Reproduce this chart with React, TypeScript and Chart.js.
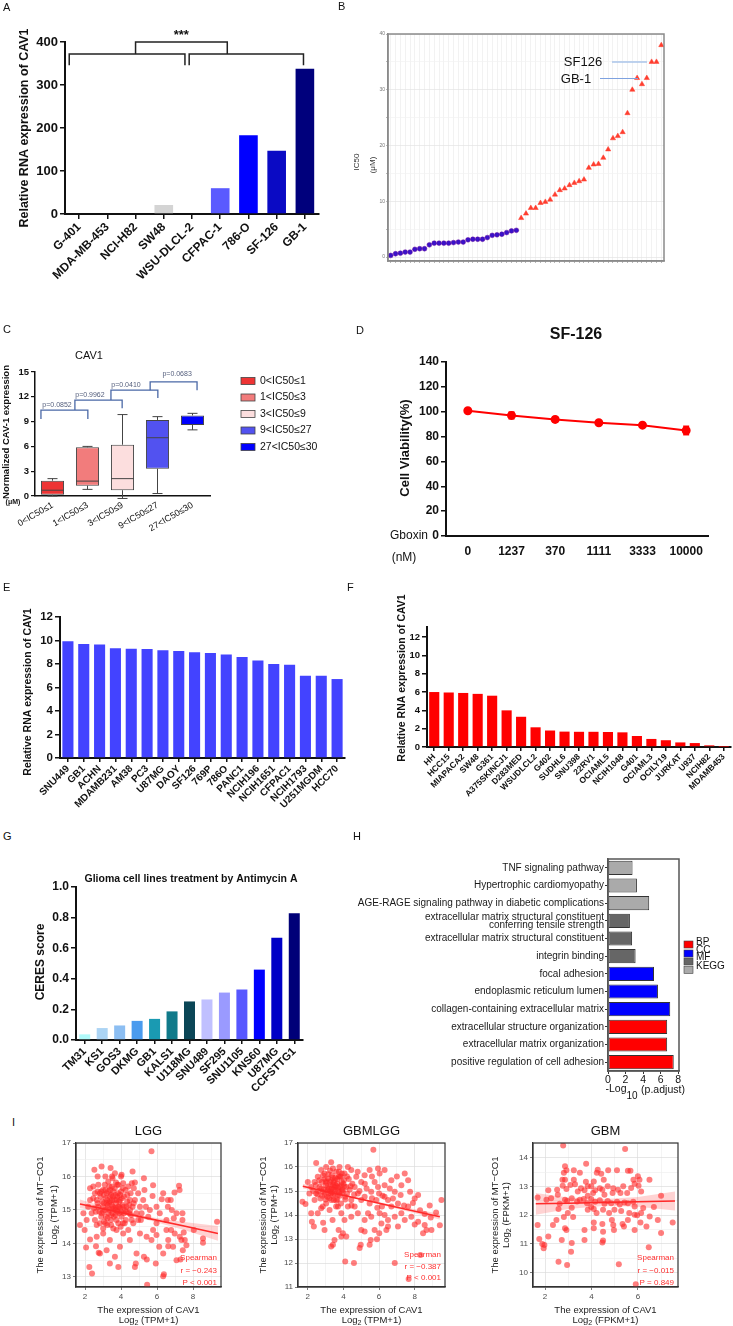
import React, { useEffect, useRef } from "react";
import { Chart, registerables } from "chart.js";

Chart.register(...registerables);

const FF = "'Liberation Sans', Arial, Helvetica, sans-serif";
Chart.defaults.font.family = FF;
Chart.defaults.color = "#111";

// ================= DATA =================
// Panel A
const aCategories = ["G-401", "MDA-MB-453", "NCI-H82", "SW48", "WSU-DLCL-2", "CFPAC-1", "786-O", "SF-126", "GB-1"];
const aValues = [0, 0, 0, 21, 0, 60, 183, 147, 338];
const aColors = ["#cccccc", "#cccccc", "#cccccc", "#d4d4d4", "#cccccc", "#5a5aff", "#0000ff", "#0a0ac4", "#00007c"];
const aBrackets = [
  { x0: -0.35, x1: 3.75, y: 372, d0: 346, d1: 346 },
  { x0: 3.9, x1: 7.95, y: 372, d0: 346, d1: 346 },
  { x0: 2.0, x1: 5.25, y: 400, d0: 372, d1: 372 },
];

// Panel B (IC50, sorted)
const bLowIC50 = [0.3, 0.6, 0.7, 0.9, 0.9, 1.4, 1.5, 1.5, 2.2, 2.5, 2.5, 2.5, 2.5, 2.6, 2.7, 2.7, 3.1, 3.2, 3.2, 3.2, 3.5, 3.9, 4.0, 4.1, 4.4, 4.7, 4.8];
const bHighIC50 = [7.0, 7.8, 8.8, 8.8, 9.7, 9.9, 10.3, 11.2, 12.0, 12.3, 12.9, 13.3, 13.6, 13.9, 16.0, 16.6, 16.7, 17.8, 19.3, 21.3, 21.7, 22.4, 25.8, 30.0, 32.1, 31.0, 32.1, 35.0, 35.0, 38.0];

// Panel C
const cCategories = ["0<IC50≤1", "1<IC50≤3", "3<IC50≤9", "9<IC50≤27", "27<IC50≤30"];
const cMin = [0, 0.8, -0.3, 0.3, 8.0];
const cQ1 = [0.15, 1.25, 0.7, 3.3, 8.6];
const cMedian = [0.7, 1.8, 2.1, 7.05, 8.65];
const cQ3 = [1.85, 5.9, 6.2, 9.2, 9.75];
const cMax = [2.1, 6.0, 9.85, 9.6, 10.0];
const cColors = ["#ee3434", "#f27c7c", "#fcdede", "#5252f0", "#0000ff"];
const cPValues = ["p=0.0852", "p=0.9962", "p=0.0410", "p=0.0683"];
const cBrackets = [
  { x0: -0.33, x1: 1.01, y: 10.4, d0: 9.3, d1: 9.3, lx: 0.13, ly: 11.0 },
  { x0: 0.64, x1: 1.99, y: 11.6, d0: 10.4, d1: 10.6, lx: 1.07, ly: 12.2 },
  { x0: 1.67, x1: 3.01, y: 12.8, d0: 11.6, d1: 11.85, lx: 2.1, ly: 13.4 },
  { x0: 2.79, x1: 4.13, y: 13.8, d0: 12.8, d1: 12.8, lx: 3.56, ly: 14.75 },
];

// Panel D
const dDoses = ["0", "1237", "370", "1111", "3333", "10000"];
const dViability = [100.8, 97.0, 93.8, 91.1, 89.2, 84.9];
const dError = [0.8, 2.5, 1.9, 1.0, 1.0, 3.2];

// Panel E
const eCategories = ["SNU449", "GB1", "ACHN", "MDAMB231", "AM38", "PC3", "U87MG", "DAOY", "SF126", "769P", "786O", "PANC1", "NCIH196", "NCIH1651", "CFPAC1", "NCIH1793", "U251MGDM", "HCC70"];
const eValues = [9.94, 9.7, 9.66, 9.35, 9.3, 9.27, 9.18, 9.1, 9.0, 8.93, 8.8, 8.6, 8.3, 8.0, 7.94, 7.0, 7.0, 6.72];

// Panel F
const fCategories = ["HH", "HCC15", "MIAPACA2", "SW48", "G361", "A375SKINCJ1", "D283MED", "WSUDLCL2", "G402", "SUDHL6", "SNU398", "22RV1", "OCIAML5", "NCIH1048", "G401", "OCIAML3", "OCILY19", "JURKAT", "U937", "NCIH82", "MDAMB453"];
const fValues = [6.0, 5.95, 5.9, 5.8, 5.6, 4.0, 3.3, 2.15, 1.8, 1.68, 1.66, 1.66, 1.64, 1.6, 1.2, 0.88, 0.74, 0.5, 0.43, 0.18, 0.02];

// Panel G
const gCategories = ["TM31", "KS1", "GOS3", "DKMG", "GB1", "KALS1", "U118MG", "SNU489", "SF295", "SNU1105", "KNS60", "U87MG", "CCFSTTG1"];
const gValues = [0.037, 0.078, 0.095, 0.125, 0.138, 0.187, 0.252, 0.265, 0.31, 0.33, 0.46, 0.668, 0.829];
const gColors = ["#b0fafa", "#acd4f4", "#8cbef2", "#4a9bee", "#1a9ab2", "#107a8a", "#0b4656", "#c0c0ff", "#9a9aff", "#5757ff", "#0000ff", "#0000c6", "#000078"];

// Panel H
const hTerms = [
  "TNF signaling pathway",
  "Hypertrophic cardiomyopathy",
  "AGE-RAGE signaling pathway in diabetic complications",
  ["extracellular matrix structural constituent", "conferring tensile strength"],
  "extracellular matrix structural constituent",
  "integrin binding",
  "focal adhesion",
  "endoplasmic reticulum lumen",
  "collagen-containing extracellular matrix",
  "extracellular structure organization",
  "extracellular matrix organization",
  "positive regulation of cell adhesion",
];
const hValues = [2.8, 3.3, 4.7, 2.5, 2.75, 3.15, 5.25, 5.7, 7.1, 6.75, 6.75, 7.5];
const hGroups = ["KEGG", "KEGG", "KEGG", "MF", "MF", "MF", "CC", "CC", "CC", "BP", "BP", "BP"];
const hLegend = ["BP", "CC", "MF", "KEGG"];
const hGroupColors: any = { BP: "#ff0000", CC: "#0000ff", MF: "#666666", KEGG: "#aaaaaa" };

// Panel I
const lggPts = [
  [5.45, 12.77], [5.69, 16.75], [1.72, 14.55], [1.98, 14.4], [2.24, 13.3], [2.39, 13.1], [2.52, 16.2], [2.28, 15.65], [2.7, 16.0], [2.92, 16.3], [3.42, 16.25], [3.72, 15.82], [4.03, 16.05], [4.64, 16.15], [4.77, 15.82], [5.27, 15.95], [5.78, 15.74], [5.75, 15.42], [6.34, 15.5], [6.26, 15.32], [6.97, 15.52], [7.22, 15.72], [7.25, 15.6], [6.6, 15.3], [6.76, 15.3],
  [8.04, 14.4], [8.55, 14.15], [8.55, 14.02], [9.33, 14.65], [7.41, 14.9], [7.41, 14.7], [7.08, 14.9], [6.93, 14.75], [6.78, 14.4], [6.98, 14.3], [7.26, 14.2], [7.35, 14.1], [7.43, 13.8], [6.52, 14.7], [6.15, 14.9], [5.97, 14.6], [5.78, 14.4], [5.69, 14.1], [6.12, 13.9], [6.34, 13.7], [5.93, 13.4], [5.43, 13.52], [4.86, 13.7], [4.82, 13.4], [4.77, 13.3], [5.27, 13.6], [6.38, 13.08], [6.34, 13.02], [3.85, 13.3], [3.38, 13.4], [3.66, 13.6], [3.94, 13.9], [2.61, 13.92], [2.83, 13.7], [2.76, 13.72], [3.2, 13.8], [2.06, 13.88], [2.28, 14.12], [2.65, 14.2], [3.01, 14.3], [3.38, 14.1], [3.75, 14.4], [4.12, 14.3], [4.49, 14.1], [5.05, 14.3], [5.42, 14.2], [5.51, 14.8], [5.14, 14.9], [4.95, 14.7], [7.63, 13.95], [7.48, 14.33], [7.3, 13.52], [7.08, 13.5], [7.54, 14.1], [6.89, 13.9], [6.62, 14.1], [6.62, 13.92], [5.97, 14.25], [6.52, 14.4], [6.82, 15.0], [6.6, 15.1], [5.97, 15.1], [5.23, 15.3], [5.38, 15.1],
  [2.18, 15.1], [2.46, 15.35], [2.65, 15.3], [2.74, 15.1], [2.83, 15.5], [2.92, 14.9], [3.05, 15.2], [3.13, 15.6], [3.16, 14.8], [3.24, 15.3], [3.29, 15.05], [3.38, 15.4], [3.44, 14.7], [3.48, 15.15], [3.53, 14.9], [3.57, 15.55], [3.62, 15.3], [3.66, 15.0], [3.72, 15.2], [3.75, 14.7], [3.79, 15.4], [3.85, 15.1], [3.9, 14.9], [3.94, 15.3], [4.0, 15.55], [4.03, 14.8], [4.09, 15.15], [4.16, 15.4], [4.22, 15.0], [4.27, 14.7], [4.34, 15.25], [4.46, 14.9], [4.53, 15.5], [4.64, 15.1], [4.77, 15.3], [4.86, 14.9], [4.68, 14.6], [4.4, 14.4], [2.83, 14.6], [2.55, 14.7], [2.37, 14.9], [3.01, 14.45], [3.24, 14.55], [3.57, 14.45], [3.98, 14.5], [2.46, 15.7], [2.74, 15.75], [3.29, 15.85], [3.53, 15.95], [3.85, 15.75], [4.12, 15.8], [4.4, 15.7], [4.71, 15.65], [4.95, 15.5], [5.05, 15.1], [3.13, 16.0], [3.66, 16.1], [3.05, 15.45], [3.34, 15.22], [3.6, 15.05], [3.9, 15.25], [4.16, 14.9], [4.49, 15.3], [2.28, 15.3], [2.09, 14.7], [1.91, 14.9],
  [3.1, 15.0], [3.2, 15.5], [3.4, 15.6], [3.5, 15.3], [3.7, 15.45], [3.8, 14.95], [3.3, 14.9], [3.45, 15.45], [3.65, 15.65], [2.95, 15.25], [3.0, 15.6], [3.35, 15.7], [4.25, 15.6], [4.5, 15.0], [4.6, 14.7], [2.6, 14.95], [2.9, 14.8], [3.95, 15.05], [4.05, 15.35], [3.15, 15.35],
  [3.25, 15.15], [3.55, 15.1], [3.85, 15.5], [3.45, 14.85], [2.85, 15.4], [4.3, 15.1], [3.7, 14.85], [3.0, 14.95], [2.7, 15.55], [4.1, 14.6],
  [2.7, 15.2], [2.8, 14.95], [2.9, 15.55], [3.0, 15.1], [3.05, 14.65], [3.1, 15.75], [3.2, 15.2], [3.25, 14.75], [3.3, 15.55], [3.35, 15.0], [3.4, 15.25], [3.45, 14.55], [3.5, 15.7], [3.55, 15.4], [3.6, 14.8], [3.7, 15.05], [3.75, 15.3], [3.8, 15.75], [3.85, 14.6], [3.9, 15.1], [3.95, 15.45], [4.0, 14.95], [4.1, 15.65], [4.15, 15.1], [4.2, 14.6], [4.3, 14.95], [4.35, 15.45], [4.45, 15.15], [4.55, 14.85], [4.7, 15.2], [2.5, 15.05], [2.55, 15.5], [2.65, 14.55], [3.15, 14.6], [3.5, 16.0], [4.0, 16.0], [4.6, 15.8], [5.1, 14.7], [5.3, 15.6], [5.6, 15.0],
];
const lggFitX = [1.72, 3.5, 5.5, 7.5, 9.38];
const lggFitY = [15.18, 14.98, 14.75, 14.52, 14.3];
const lggLow = [15.05, 14.93, 14.7, 14.4, 14.08];
const lggHigh = [15.31, 15.03, 14.8, 14.64, 14.52];
const lggStats = ["Spearman", "r = −0.243", "P < 0.001"];

const gbmlggPts = [
  [5.68, 16.72], [2.47, 16.17], [3.31, 16.2], [1.7, 14.55], [1.87, 14.46], [2.23, 13.72], [2.34, 13.52], [3.31, 12.69], [3.41, 12.76], [3.5, 12.96], [4.1, 12.06], [4.59, 12.0], [6.88, 12.0], [7.66, 11.33], [8.32, 12.33], [4.91, 12.62], [4.97, 12.76], [5.47, 12.76], [5.53, 12.96], [5.88, 12.99], [6.01, 13.24], [6.41, 13.38], [5.75, 13.38], [5.0, 13.38], [5.19, 13.31], [3.97, 13.24], [4.16, 13.1], [3.73, 13.38], [3.88, 13.1], [2.94, 13.38], [2.86, 13.68], [3.39, 13.79], [2.56, 14.07], [2.75, 14.28], [2.19, 14.07],
  [9.5, 14.62], [9.41, 13.57], [8.84, 14.4], [8.94, 13.38], [8.66, 13.38], [8.56, 14.04], [8.19, 13.72], [8.56, 13.58], [8.47, 13.24], [8.19, 14.83], [8.0, 14.69], [7.74, 14.97], [7.63, 15.45], [7.44, 15.73], [7.25, 15.24], [7.21, 14.83], [7.06, 14.48], [6.88, 14.97], [6.78, 14.69], [6.69, 14.35], [6.5, 14.62], [6.31, 15.24], [6.31, 14.76], [6.16, 14.35], [6.03, 14.07], [5.84, 14.62], [5.94, 15.17], [5.75, 15.38], [5.56, 14.97], [5.47, 14.48], [5.38, 14.07], [5.19, 13.79], [5.56, 13.93], [6.13, 13.65], [6.5, 13.79], [6.88, 13.93], [7.25, 14.07], [7.63, 14.35], [7.81, 13.93], [7.44, 13.79], [7.06, 13.52], [6.5, 13.52], [6.31, 14.0], [6.69, 15.45], [6.31, 15.87], [6.03, 15.73], [5.94, 15.94], [5.47, 15.87], [5.19, 15.66], [5.0, 15.38], [4.72, 15.59], [4.44, 15.87], [4.25, 16.0], [4.06, 15.73], [4.63, 15.17], [4.81, 14.9], [5.0, 14.62], [5.19, 14.76], [4.44, 14.62], [4.25, 14.35], [4.63, 14.35], [4.81, 14.07], [4.44, 13.93], [4.06, 13.79], [3.88, 14.07], [3.69, 14.35],
  [2.19, 15.17], [2.38, 15.38], [2.47, 14.9], [2.56, 15.59], [2.66, 15.17], [2.71, 14.69], [2.79, 15.38], [2.86, 14.97], [2.94, 15.73], [3.01, 15.24], [3.09, 14.76], [3.13, 15.52], [3.18, 15.1], [3.24, 15.38], [3.29, 14.9], [3.35, 15.66], [3.41, 15.24], [3.46, 14.62], [3.5, 15.45], [3.54, 15.04], [3.59, 15.8], [3.65, 15.31], [3.69, 14.83], [3.74, 15.59], [3.8, 15.17], [3.86, 14.48], [3.91, 15.38], [3.97, 14.97], [4.03, 15.45], [4.1, 14.76], [4.16, 15.17], [3.31, 14.62], [3.03, 14.48], [2.84, 14.35], [3.59, 14.35], [3.22, 14.21], [3.41, 15.94], [3.03, 16.0], [2.75, 15.87], [3.78, 16.0], [3.91, 15.73], [2.38, 14.62], [2.09, 14.9], [2.0, 15.38], [3.13, 15.03], [3.28, 15.24], [3.5, 15.17], [3.69, 15.03], [3.88, 15.24],
  [8.9, 13.9], [9.2, 14.1], [8.3, 14.2], [7.9, 14.5], [4.5, 15.3], [4.8, 15.8], [5.3, 15.1], [5.6, 15.6], [6.0, 14.9], [6.6, 15.1], [7.0, 15.6], [7.4, 14.4], [8.0, 13.6], [2.9, 15.05], [3.15, 14.9], [3.35, 15.1], [3.6, 15.2], [3.75, 14.95], [2.6, 15.0], [3.05, 15.35], [3.45, 15.35], [3.95, 15.05], [4.3, 15.5], [4.2, 14.9],
  [3.25, 15.0], [3.55, 15.55], [2.95, 15.5], [3.4, 14.8], [3.8, 15.6], [4.4, 15.2], [4.6, 14.85], [2.8, 14.8], [3.65, 14.65], [4.05, 15.2],
  [2.65, 15.45], [2.75, 15.1], [2.85, 15.65], [2.95, 14.85], [3.0, 15.4], [3.1, 15.15], [3.15, 15.7], [3.2, 14.7], [3.3, 15.45], [3.35, 14.95], [3.4, 15.55], [3.45, 15.05], [3.55, 15.25], [3.6, 14.6], [3.65, 15.5], [3.7, 15.15], [3.8, 14.8], [3.85, 15.6], [3.9, 15.0], [4.0, 15.3], [4.1, 14.65], [4.2, 15.6], [4.35, 15.05], [2.55, 14.85], [2.45, 15.25], [3.0, 14.65], [3.25, 15.85], [3.5, 14.85], [3.75, 15.8], [4.45, 14.4], [4.9, 15.0], [5.2, 15.3], [5.6, 14.7], [5.9, 14.3], [6.2, 14.8], [2.3, 15.0],
];
const gbmlggFitX = [1.72, 3.5, 5.5, 7.5, 9.41];
const gbmlggFitY = [15.2, 14.9, 14.57, 14.24, 13.93];
const gbmlggLow = [15.1, 14.86, 14.53, 14.17, 13.81];
const gbmlggHigh = [15.3, 14.94, 14.61, 14.31, 14.05];
const gbmlggStats = ["Spearman", "r = −0.387", "P < 0.001"];

const gbmPts = [
  [2.78, 14.43], [5.45, 14.31], [4.72, 13.57], [3.77, 13.8], [2.86, 13.71], [2.92, 13.57], [2.81, 13.48], [3.24, 13.57], [3.5, 13.48], [2.86, 13.24], [2.75, 13.24], [3.24, 13.24], [3.76, 13.17], [4.1, 13.18], [4.23, 13.48], [4.27, 13.59], [4.42, 13.45], [4.53, 13.24], [5.1, 13.57], [5.57, 13.55], [5.68, 13.55], [5.81, 13.24], [6.0, 13.36], [6.07, 13.24], [6.5, 13.24], [6.03, 13.03], [5.86, 13.1],
  [2.14, 12.87], [2.52, 12.89], [2.55, 12.72], [2.76, 13.03], [2.92, 12.92], [3.09, 13.06], [3.29, 13.08], [3.41, 12.83], [3.55, 12.94], [3.7, 12.87], [3.84, 13.01], [3.84, 12.68], [3.99, 13.01], [4.07, 12.78], [4.16, 12.87], [4.36, 12.94], [4.47, 12.89], [4.56, 12.72], [4.7, 13.01], [4.94, 12.94], [4.91, 12.78], [5.14, 12.89], [5.25, 12.78], [5.37, 13.01], [5.54, 12.78], [5.71, 12.95], [6.14, 12.83],
  [2.26, 12.59], [1.68, 12.62], [2.06, 12.54], [2.63, 12.4], [2.86, 12.54], [2.95, 12.5], [3.15, 12.59], [3.38, 12.48], [3.5, 12.54], [3.67, 12.57], [3.81, 12.42], [3.99, 12.57], [3.99, 12.29], [4.16, 12.47], [4.36, 12.52], [4.56, 12.4], [4.7, 12.5], [4.85, 12.42], [5.1, 12.47], [5.22, 12.38], [5.42, 12.45], [5.57, 12.42], [5.8, 12.47], [5.86, 12.31], [6.23, 12.25], [6.69, 12.29], [7.0, 12.68],
  [2.58, 12.22], [3.15, 12.26], [2.98, 12.08], [3.84, 12.19], [4.1, 12.22], [4.22, 12.08], [4.5, 12.19], [4.76, 12.08], [4.99, 12.19], [5.28, 12.15], [5.63, 12.08], [5.86, 12.02], [5.97, 12.0], [6.14, 12.08], [6.51, 11.96],
  [1.68, 11.66], [2.34, 11.66], [2.49, 11.84], [2.81, 11.94], [3.21, 11.94], [2.86, 11.55], [2.92, 11.49], [3.7, 11.49], [4.1, 11.75], [4.1, 11.55], [4.47, 11.7], [4.5, 11.43], [4.88, 11.84], [4.94, 11.66], [5.34, 11.7], [5.4, 11.61], [5.57, 11.84], [4.97, 11.49], [6.11, 11.75], [6.37, 11.61], [6.86, 11.84], [7.5, 11.75], [7.0, 11.38], [5.86, 11.49],
  [1.75, 11.17], [2.14, 11.26], [1.88, 11.0], [1.94, 10.85], [1.97, 10.96], [2.72, 11.14], [3.15, 11.03], [3.7, 11.14], [4.47, 11.05], [4.5, 11.12], [6.47, 10.89], [2.58, 10.38], [2.95, 10.27], [5.18, 10.29], [5.91, 9.6], [3.12, 10.73],
];
const gbmFitX = [1.6, 3.0, 4.6, 6.0, 7.6];
const gbmFitY = [12.4, 12.42, 12.45, 12.47, 12.5];
const gbmLow = [12.02, 12.22, 12.33, 12.3, 12.17];
const gbmHigh = [12.78, 12.62, 12.57, 12.64, 12.83];
const gbmStats = ["Spearman", "r = −0.015", "P = 0.849"];

const panelLetters: [string, number, number][] = [
  ["A", 3, 1], ["B", 338, 0], ["C", 3, 323], ["D", 356, 324], ["E", 3, 581], ["F", 347, 581], ["G", 3, 830], ["H", 353, 830], ["I", 12, 1116],
];

// ================= HELPERS =================
type Rect = { l: number; t: number; w: number; h: number };
type Area = { l: number; t: number; r: number; b: number };

function T(ctx: CanvasRenderingContext2D, s: string, x: number, y: number, size: number, o: any = {}) {
  ctx.save();
  ctx.translate(x, y);
  if (o.rot) ctx.rotate((o.rot * Math.PI) / 180);
  ctx.font = `${o.bold ? "bold " : ""}${size}px ${FF}`;
  ctx.fillStyle = o.color || "#111";
  ctx.textAlign = o.align || "center";
  ctx.textBaseline = o.base || "middle";
  ctx.fillText(s, 0, 0);
  ctx.restore();
}

function L(ctx: CanvasRenderingContext2D, pts: number[][], color = "#111", w = 1) {
  ctx.save();
  ctx.beginPath();
  ctx.strokeStyle = color;
  ctx.lineWidth = w;
  pts.forEach(([x, y], i) => (i ? ctx.lineTo(x, y) : ctx.moveTo(x, y)));
  ctx.stroke();
  ctx.restore();
}

function TS(ctx: CanvasRenderingContext2D, parts: [string, number][], x: number, y: number, size: number, o: any = {}) {
  ctx.save();
  ctx.translate(x, y);
  if (o.rot) ctx.rotate((o.rot * Math.PI) / 180);
  const f = (p: number) => `${o.bold ? "bold " : ""}${p ? size * 0.75 : size}px ${FF}`;
  let total = 0;
  parts.forEach(([t, p]) => {
    ctx.font = f(p);
    total += ctx.measureText(t).width;
  });
  let cx = -total / 2;
  ctx.fillStyle = o.color || "#111";
  ctx.textBaseline = "middle";
  ctx.textAlign = "left";
  parts.forEach(([t, p]) => {
    ctx.font = f(p);
    ctx.fillText(t, cx, p ? size * 0.35 : 0);
    cx += ctx.measureText(t).width;
  });
  ctx.restore();
}

function deco(rect: Rect, fn: (ctx: CanvasRenderingContext2D, X: (v: number) => number, Y: (v: number) => number, chart: any) => void) {
  return {
    id: "deco",
    afterDraw(chart: any) {
      const ctx = chart.ctx as CanvasRenderingContext2D;
      ctx.save();
      ctx.translate(-rect.l, -rect.t);
      const X = (v: number) => chart.scales.x.getPixelForValue(v) + rect.l;
      const Y = (v: number) => chart.scales.y.getPixelForValue(v) + rect.t;
      fn(ctx, X, Y, chart);
      ctx.restore();
    },
  };
}

function baseOpts(rect: Rect, ca: Area) {
  return {
    responsive: false,
    animation: false,
    devicePixelRatio: 1,
    events: [],
    layout: { autoPadding: false, padding: { left: 0, top: ca.t - rect.t, right: rect.l + rect.w - ca.r, bottom: 0 } },
    plugins: { legend: { display: false }, tooltip: { enabled: false }, title: { display: false } },
  };
}
const fitW = (w: number) => (s: any) => {
  s.width = w;
};
const fitH = (h: number) => (s: any) => {
  s.height = h;
};
const onStep = (step: number) => (s: any) => {
  s.ticks = s.ticks.filter((t: any) => Math.abs(t.value / step - Math.round(t.value / step)) < 1e-6);
};
const isMult = (v: number, s: number) => Math.abs(v / s - Math.round(v / s)) < 1e-6;

function ChartBox({ rect, cfg }: { rect: Rect; cfg: () => any }) {
  const ref = useRef<HTMLCanvasElement>(null);
  useEffect(() => {
    const ch = new Chart(ref.current as HTMLCanvasElement, cfg());
    return () => ch.destroy();
  }, []);
  return (
    <canvas
      ref={ref}
      width={rect.w}
      height={rect.h}
      style={{ position: "absolute", left: rect.l, top: rect.t, width: rect.w, height: rect.h }}
    />
  );
}

// Generic Prism-style bar chart
function prismBar(rect: Rect, ca: Area, cats: string[], vals: number[], colors: any, o: any) {
  return {
    type: "bar",
    data: { labels: cats, datasets: [{ data: vals, backgroundColor: colors, barPercentage: o.barPct, categoryPercentage: 1 }] },
    options: {
      ...baseOpts(rect, ca),
      scales: {
        x: {
          offset: true,
          grid: { offset: false, drawOnChartArea: false, tickLength: o.xTick, color: "#111", lineWidth: 1.5 },
          border: { color: "#111", width: 2 },
          ticks: { autoSkip: false, minRotation: 45, maxRotation: 45, padding: 1, color: "#111", font: { size: o.xFont, weight: "bold" } },
          afterFit: fitH(rect.t + rect.h - ca.b),
        },
        y: {
          min: 0,
          max: o.yMax,
          grid: { drawOnChartArea: false, tickLength: 5, color: "#111", lineWidth: 1.5 },
          border: { color: "#111", width: 2 },
          ticks: { stepSize: o.yStep, includeBounds: false, padding: 2, color: "#111", font: { size: o.yFont, weight: "bold" }, callback: o.yFmt || ((v: any) => String(v)) },
          afterBuildTicks: onStep(o.yStep),
          afterFit: fitW(ca.l - rect.l),
        },
      },
    },
    plugins: [deco(rect, o.draw)],
  };
}

// ================= PANELS =================
const rectA = { l: 0, t: 0, w: 345, h: 310 };
const caA = { l: 65, t: 42, r: 319, b: 214 };
const cfgA = () =>
  prismBar(rectA, caA, aCategories, aValues, aColors, {
    barPct: 0.66, xTick: 5, xFont: 12, yMax: 400, yStep: 100, yFont: 13,
    draw: (ctx: any, X: any, Y: any) => {
      aBrackets.forEach((b) => L(ctx, [[X(b.x0), Y(b.d0)], [X(b.x0), Y(b.y)], [X(b.x1), Y(b.y)], [X(b.x1), Y(b.d1)]], "#222", 1.5));
      T(ctx, "***", X(3.62), Y(416), 13, { bold: true });
      T(ctx, "Relative RNA expression of CAV1", 25, 128, 12.5, { bold: true, rot: -90 });
    },
  });

const rectB = { l: 348, t: 25, w: 385, h: 255 };
const caB = { l: 388, t: 34, r: 664, b: 261 };
const cfgB = () => ({
  type: "line",
  data: {
    datasets: [
      { data: bLowIC50.map((v, i) => ({ x: i + 1, y: v })), showLine: false, pointStyle: "circle", pointRadius: 2.4, pointBackgroundColor: "#3a12c8", pointBorderColor: "#6a0fa0", pointBorderWidth: 0.5 },
      { data: bHighIC50.map((v, i) => ({ x: bLowIC50.length + i + 1, y: v })), showLine: false, pointStyle: "triangle", pointRadius: 3, pointBackgroundColor: "#ff3d2e", pointBorderColor: "#ff3d2e", pointBorderWidth: 0.5 },
    ],
  },
  options: {
    ...baseOpts(rectB, caB),
    scales: {
      x: {
        type: "linear", min: 0.44, max: 57.56,
        ticks: { display: false, stepSize: 1, includeBounds: false },
        afterBuildTicks: onStep(1),
        grid: { color: "#ececec", lineWidth: 0.7, tickLength: 2, tickColor: "#999" },
        border: { color: "#8a8a8a", width: 1.5 },
        afterFit: fitH(rectB.t + rectB.h - caB.b),
      },
      y: {
        min: -0.7, max: 40,
        ticks: { stepSize: 5, includeBounds: false, padding: 1, color: "#777", font: { size: 5 }, callback: (v: any) => (isMult(v, 10) ? String(v) : "") },
        afterBuildTicks: onStep(5),
        grid: { color: (c: any) => (c.tick && isMult(c.tick.value, 10) ? "#e4e4e4" : "#f2f2f2"), lineWidth: 0.7, tickLength: 2, tickColor: "#999" },
        border: { color: "#8a8a8a", width: 1.5 },
        afterFit: fitW(caB.l - rectB.l),
      },
    },
  },
  plugins: [
    deco(rectB, (ctx) => {
      ctx.save();
      ctx.strokeStyle = "#8a8a8a";
      ctx.lineWidth = 1.5;
      ctx.strokeRect(caB.l, caB.t, caB.r - caB.l, caB.b - caB.t);
      ctx.restore();
      T(ctx, "SF126", 583, 62, 13);
      L(ctx, [[612, 62], [647, 62]], "#aac4ea", 1.5);
      T(ctx, "GB-1", 576, 79, 13);
      L(ctx, [[600, 78.5], [638, 78.5]], "#7ea2e0", 1.2);
      T(ctx, "IC50", 357, 162, 8, { rot: -90, color: "#333" });
      T(ctx, "(μM)", 373, 165, 8, { rot: -90, color: "#333" });
    }),
  ],
});

const rectC = { l: 0, t: 330, w: 350, h: 215 };
const caC = { l: 35, t: 372, r: 210, b: 496 };
const cfgC = () => ({
  type: "bar",
  data: {
    labels: cCategories,
    datasets: [{ data: cQ1.map((q, i) => [q, cQ3[i]]), backgroundColor: cColors, borderColor: "#444", borderWidth: 1, borderSkipped: false, barPercentage: 0.66, categoryPercentage: 1 }],
  },
  options: {
    ...baseOpts(rectC, caC),
    scales: {
      x: {
        offset: true,
        grid: { display: false, drawTicks: false },
        border: { color: "#111", width: 1.5 },
        ticks: { autoSkip: false, minRotation: 30, maxRotation: 30, padding: 4, color: "#111", font: { size: 9 } },
        afterFit: fitH(rectC.t + rectC.h - caC.b),
      },
      y: {
        min: 0, max: 15,
        grid: { drawOnChartArea: false, tickLength: 4, color: "#111", lineWidth: 1.2 },
        border: { color: "#111", width: 1.5 },
        ticks: { stepSize: 3, padding: 2, color: "#111", font: { size: 9.5, weight: "bold" } },
        afterFit: fitW(caC.l - rectC.l),
      },
    },
  },
  plugins: [
    deco(rectC, (ctx, X, Y) => {
      const half = 11.5;
      cCategories.forEach((_, i) => {
        const x = X(i);
        L(ctx, [[x, Y(cQ3[i])], [x, Y(cMax[i])]], "#444", 1);
        L(ctx, [[x - 5, Y(cMax[i])], [x + 5, Y(cMax[i])]], "#444", 1);
        L(ctx, [[x, Y(cQ1[i])], [x, Y(cMin[i])]], "#444", 1);
        L(ctx, [[x - 5, Y(cMin[i])], [x + 5, Y(cMin[i])]], "#444", 1);
        L(ctx, [[x - half, Y(cMedian[i])], [x + half, Y(cMedian[i])]], "#444", 1);
      });
      cBrackets.forEach((b, i) => {
        L(ctx, [[X(b.x0), Y(b.d0)], [X(b.x0), Y(b.y)], [X(b.x1), Y(b.y)], [X(b.x1), Y(b.d1)]], "#4a68a6", 1.3);
        T(ctx, cPValues[i], X(b.lx), Y(b.ly), 7, { color: "#56607e" });
      });
      T(ctx, "CAV1", 89, 356, 11);
      T(ctx, "Normalized CAV-1 expression", 6, 432, 9.5, { bold: true, rot: -90 });
      T(ctx, "(μM)", 13, 502, 7, { bold: true });
      const ly = [381, 397.5, 414, 430.5, 447];
      cCategories.forEach((c, i) => {
        ctx.save();
        ctx.fillStyle = cColors[i];
        ctx.fillRect(241, ly[i] - 3.5, 14, 7);
        ctx.strokeStyle = "#444";
        ctx.lineWidth = 0.8;
        ctx.strokeRect(241, ly[i] - 3.5, 14, 7);
        ctx.restore();
        T(ctx, c, 260, ly[i], 10.5, { align: "left" });
      });
    }),
  ],
});

const rectD = { l: 360, t: 320, w: 373, h: 260 };
const caD = { l: 446, t: 362, r: 708, b: 536 };
const cfgD = () => ({
  type: "line",
  data: {
    labels: dDoses,
    datasets: [{ data: dViability, borderColor: "#ff0000", borderWidth: 2, pointRadius: 3.5, pointBackgroundColor: "#ff0000", pointBorderColor: "#ff0000", fill: false }],
  },
  options: {
    ...baseOpts(rectD, caD),
    scales: {
      x: {
        offset: true,
        grid: { display: false, drawTicks: false },
        border: { color: "#111", width: 2 },
        ticks: { autoSkip: false, minRotation: 0, maxRotation: 0, padding: 8, color: "#111", font: { size: 12, weight: "bold" } },
        afterFit: fitH(rectD.t + rectD.h - caD.b),
      },
      y: {
        min: 0, max: 140,
        grid: { drawOnChartArea: false, tickLength: 5, color: "#111", lineWidth: 1.5 },
        border: { color: "#111", width: 2 },
        ticks: { stepSize: 20, padding: 2, color: "#111", font: { size: 12, weight: "bold" } },
        afterFit: fitW(caD.l - rectD.l),
      },
    },
  },
  plugins: [
    deco(rectD, (ctx, X, Y) => {
      dViability.forEach((v, i) => {
        const x = X(i);
        L(ctx, [[x, Y(v - dError[i])], [x, Y(v + dError[i])]], "#ff0000", 2);
        L(ctx, [[x - 3, Y(v - dError[i])], [x + 3, Y(v - dError[i])]], "#ff0000", 2);
        L(ctx, [[x - 3, Y(v + dError[i])], [x + 3, Y(v + dError[i])]], "#ff0000", 2);
      });
      T(ctx, "SF-126", 576, 335, 16, { bold: true });
      T(ctx, "Cell Viability(%)", 405, 448, 13, { bold: true, rot: -90 });
      T(ctx, "Gboxin", 428, 536, 12, { align: "right" });
      T(ctx, "(nM)", 404, 558, 12);
    }),
  ],
});

const rectE = { l: 0, t: 590, w: 360, h: 235 };
const caE = { l: 60, t: 617, r: 345, b: 758 };
const cfgE = () =>
  prismBar(rectE, caE, eCategories, eValues, "#4343ff", {
    barPct: 0.7, xTick: 4, xFont: 10, yMax: 12, yStep: 2, yFont: 11.5,
    draw: (ctx: any) => {
      T(ctx, "Relative RNA expression of CAV1", 28, 692, 10.5, { bold: true, rot: -90 });
    },
  });

const rectF = { l: 360, t: 585, w: 373, h: 240 };
const caF = { l: 427, t: 627, r: 731, b: 747 };
const cfgF = () =>
  prismBar(rectF, caF, fCategories, fValues, "#ff0000", {
    barPct: 0.7, xTick: 4, xFont: 8.5, yMax: 13.1, yStep: 2, yFont: 9.5,
    draw: (ctx: any) => {
      T(ctx, "Relative RNA expression of CAV1", 402, 678, 10.5, { bold: true, rot: -90 });
    },
  });

const rectG = { l: 0, t: 860, w: 360, h: 240 };
const caG = { l: 76, t: 887, r: 303, b: 1040 };
const cfgG = () =>
  prismBar(rectG, caG, gCategories, gValues, gColors, {
    barPct: 0.63, xTick: 4, xFont: 11, yMax: 1, yStep: 0.2, yFont: 12,
    yFmt: (v: any) => Number(v).toFixed(1),
    draw: (ctx: any) => {
      T(ctx, "Glioma cell lines treatment by Antimycin A", 191, 879, 10.5, { bold: true });
      T(ctx, "CERES score", 41, 962, 12, { bold: true, rot: -90 });
    },
  });

const rectH = { l: 335, t: 845, w: 398, h: 265 };
const caH = { l: 608, t: 859, r: 679, b: 1071 };
const cfgH = () => ({
  type: "bar",
  data: {
    labels: hTerms,
    datasets: [{ data: hValues, backgroundColor: hGroups.map((g) => hGroupColors[g]), borderColor: "#333", borderWidth: 1, borderSkipped: false, barPercentage: 0.8, categoryPercentage: 1 }],
  },
  options: {
    ...baseOpts(rectH, caH),
    indexAxis: "y",
    scales: {
      y: {
        offset: true,
        grid: { offset: false, drawOnChartArea: false, tickLength: 3, color: "#333", lineWidth: 1 },
        border: { color: "#555", width: 1.5 },
        ticks: { autoSkip: false, padding: 1, color: "#1a1a1a", font: { size: 10, lineHeight: 0.8 } },
        afterFit: fitW(caH.l - rectH.l),
      },
      x: {
        min: 0, max: 8.1,
        grid: { drawOnChartArea: false, tickLength: 3, color: "#333", lineWidth: 1 },
        border: { color: "#555", width: 1.5 },
        ticks: { stepSize: 2, includeBounds: false, padding: 0, color: "#111", font: { size: 10.5 } },
        afterBuildTicks: onStep(2),
        afterFit: fitH(rectH.t + rectH.h - caH.b),
      },
    },
  },
  plugins: [
    deco(rectH, (ctx) => {
      ctx.save();
      ctx.strokeStyle = "#555";
      ctx.lineWidth = 1.5;
      ctx.strokeRect(caH.l, caH.t, caH.r - caH.l, caH.b - caH.t);
      ctx.restore();
      T(ctx, "-Log", 616, 1089, 10.5);
      T(ctx, "10", 632, 1096, 10);
      T(ctx, "(p.adjust)", 663, 1090, 10.5);
      const ys = [944.5, 953.5, 961.5, 970];
      hLegend.forEach((g, i) => {
        ctx.save();
        ctx.fillStyle = hGroupColors[g];
        ctx.fillRect(684, ys[i] - 3.5, 9, 7);
        ctx.strokeStyle = "#444";
        ctx.lineWidth = 0.6;
        ctx.strokeRect(684, ys[i] - 3.5, 9, 7);
        ctx.restore();
      });
      const ty = [942, 950, 957.5, 966.5];
      hLegend.forEach((g, i) => T(ctx, g, 696, ty[i], 10, { align: "left" }));
    }),
  ],
});

function scatterCfg(o: any) {
  const { rect, ca, pts, fitX, fitY, lo, hi, xr, yr, title, unit, stats, statsY, yTitleX } = o;
  return {
    type: "line",
    data: {
      datasets: [
        { data: pts.map(([x, y]: number[]) => ({ x, y })), showLine: false, pointRadius: 3, pointBackgroundColor: "rgba(255,40,40,0.6)", pointBorderWidth: 0, order: 1 },
        { data: fitX.map((x: number, i: number) => ({ x, y: lo[i] })), pointRadius: 0, borderColor: "rgba(0,0,0,0)", borderWidth: 1, fill: false, order: 3 },
        { data: fitX.map((x: number, i: number) => ({ x, y: hi[i] })), pointRadius: 0, borderColor: "rgba(0,0,0,0)", borderWidth: 1, fill: "-1", backgroundColor: "rgba(255,110,110,0.3)", order: 2 },
        { data: fitX.map((x: number, i: number) => ({ x, y: fitY[i] })), pointRadius: 0, borderColor: "#ff2a2a", borderWidth: 1.6, fill: false, order: 0 },
      ],
    },
    options: {
      ...baseOpts(rect, ca),
      scales: {
        x: {
          type: "linear", min: xr[0], max: xr[1],
          ticks: { stepSize: 1, includeBounds: false, padding: 2, color: "#4d4d4d", font: { size: 8 }, callback: (v: any) => (isMult(v, 2) ? String(v) : "") },
          afterBuildTicks: onStep(1),
          grid: {
            color: (c: any) => (c.tick && isMult(c.tick.value, 2) ? "#dcdcdc" : "#efefef"),
            lineWidth: 0.7,
            tickLength: 3,
            tickColor: (c: any) => (c.tick && isMult(c.tick.value, 2) ? "#444" : "rgba(0,0,0,0)"),
          },
          border: { color: "#333", width: 1.2 },
          afterFit: fitH(rect.t + rect.h - ca.b),
        },
        y: {
          min: yr[0], max: yr[1],
          ticks: { stepSize: 0.5, includeBounds: false, padding: 2, color: "#4d4d4d", font: { size: 8 }, callback: (v: any) => (isMult(v, 1) ? String(v) : "") },
          afterBuildTicks: onStep(0.5),
          grid: {
            color: (c: any) => (c.tick && isMult(c.tick.value, 1) ? "#dcdcdc" : "#efefef"),
            lineWidth: 0.7,
            tickLength: 3,
            tickColor: (c: any) => (c.tick && isMult(c.tick.value, 1) ? "#444" : "rgba(0,0,0,0)"),
          },
          border: { color: "#333", width: 1.2 },
          afterFit: fitW(ca.l - rect.l),
        },
      },
    },
    plugins: [
      deco(rect, (ctx) => {
        ctx.save();
        ctx.strokeStyle = "#333";
        ctx.lineWidth = 1.2;
        ctx.strokeRect(ca.l, ca.t, ca.r - ca.l, ca.b - ca.t);
        ctx.restore();
        const cx = (ca.l + ca.r) / 2;
        const cy = (ca.t + ca.b) / 2;
        T(ctx, title, cx, 1131, 13);
        T(ctx, "The expression of CAV1", cx, 1310, 9.5, { color: "#222" });
        TS(ctx, [["Log", 0], ["2", 1], [` (${unit})`, 0]], cx, 1320, 9.5, { color: "#222" });
        T(ctx, "The expression of MT−CO1", yTitleX[0], cy, 9.5, { rot: -90, color: "#222" });
        TS(ctx, [["Log", 0], ["2", 1], [` (${unit})`, 0]], yTitleX[1], cy, 9.5, { rot: -90, color: "#222" });
        stats.forEach((s: string, i: number) => T(ctx, s, ca.r - 4, statsY[i], 8, { align: "right", color: "#ff3030" }));
      }),
    ],
  };
}

const rectI1 = { l: 30, t: 1120, w: 200, h: 206 };
const caI1 = { l: 76, t: 1143, r: 221, b: 1287 };
const rectI2 = { l: 250, t: 1120, w: 200, h: 206 };
const caI2 = { l: 298, t: 1143, r: 445, b: 1287 };
const rectI3 = { l: 485, t: 1120, w: 200, h: 206 };
const caI3 = { l: 533, t: 1143, r: 678, b: 1287 };

const cfgI1 = () =>
  scatterCfg({ rect: rectI1, ca: caI1, pts: lggPts, fitX: lggFitX, fitY: lggFitY, lo: lggLow, hi: lggHigh, xr: [1.5, 9.55], yr: [12.7, 17], title: "LGG", unit: "TPM+1", stats: lggStats, statsY: [1258, 1271, 1283], yTitleX: [40, 54] });
const cfgI2 = () =>
  scatterCfg({ rect: rectI2, ca: caI2, pts: gbmlggPts, fitX: gbmlggFitX, fitY: gbmlggFitY, lo: gbmlggLow, hi: gbmlggHigh, xr: [1.45, 9.7], yr: [11, 17], title: "GBMLGG", unit: "TPM+1", stats: gbmlggStats, statsY: [1255, 1267, 1278], yTitleX: [263, 274] });
const cfgI3 = () =>
  scatterCfg({ rect: rectI3, ca: caI3, pts: gbmPts, fitX: gbmFitX, fitY: gbmFitY, lo: gbmLow, hi: gbmHigh, xr: [1.48, 7.73], yr: [9.5, 14.52], title: "GBM", unit: "FPKM+1", stats: gbmStats, statsY: [1258, 1271, 1283], yTitleX: [495, 506] });

export default function App() {
  return (
    <div style={{ position: "absolute", left: 0, top: 0, width: 733, height: 1326, overflow: "hidden", background: "#fff", fontFamily: FF }}>
      <ChartBox rect={rectA} cfg={cfgA} />
      <ChartBox rect={rectB} cfg={cfgB} />
      <ChartBox rect={rectC} cfg={cfgC} />
      <ChartBox rect={rectD} cfg={cfgD} />
      <ChartBox rect={rectE} cfg={cfgE} />
      <ChartBox rect={rectF} cfg={cfgF} />
      <ChartBox rect={rectG} cfg={cfgG} />
      <ChartBox rect={rectH} cfg={cfgH} />
      <ChartBox rect={rectI1} cfg={cfgI1} />
      <ChartBox rect={rectI2} cfg={cfgI2} />
      <ChartBox rect={rectI3} cfg={cfgI3} />
      {panelLetters.map(([s, x, y]) => (
        <div key={s} style={{ position: "absolute", left: x, top: y, fontSize: 11, lineHeight: "13px", color: "#111" }}>
          {s}
        </div>
      ))}
    </div>
  );
}
